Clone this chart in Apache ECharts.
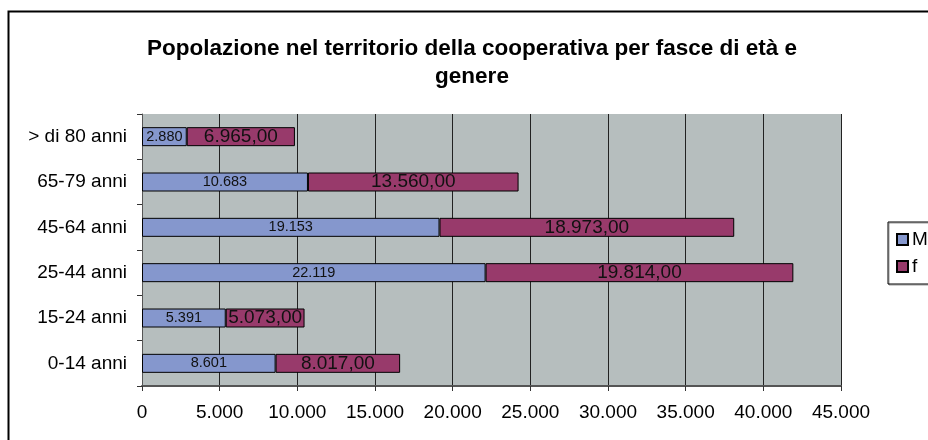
<!DOCTYPE html>
<html>
<head>
<meta charset="utf-8">
<script src="https://cdn.jsdelivr.net/npm/echarts@6/dist/echarts.min.js"></script>
<style>
  html, body { margin: 0; padding: 0; background: #fff; }
  #chart { width: 928px; height: 440px; }
</style>
</head>
<body>
<div id="chart"></div>
<script>
// categorie dal basso verso l'alto
var categories = ["0-14 anni", "15-24 anni", "25-44 anni", "45-64 anni", "65-79 anni", "> di 80 anni"];
var maschi = [8601, 5391, 22119, 19153, 10683, 2880];   // M
var femmine = [8017, 5073, 19814, 18973, 13560, 6965];  // f
var xTicks = [0, 5000, 10000, 15000, 20000, 25000, 30000, 35000, 40000, 45000];

function migliaia(v) {
  return String(v).replace(/\B(?=(\d{3})+(?!\d))/g, ".");
}

var chart = echarts.init(document.getElementById("chart"));

var options = {
  animation: false,
  textStyle: { fontFamily: "Liberation Sans, Arial, sans-serif" },
  title: {
    text: "Popolazione nel territorio della cooperativa per fasce di età e\ngenere",
    left: 467,
    top: 30,
    textAlign: "center",
    textStyle: {
      fontSize: 22.5,
      fontWeight: "bold",
      color: "#000",
      lineHeight: 28,
      fontFamily: "Liberation Sans, Arial, sans-serif"
    }
  },
  legend: {
    orient: "vertical",
    left: 888,
    top: 222,
    padding: [8, 40, 8, 8],
    itemGap: 8,
    itemWidth: 11,
    itemHeight: 11,
    icon: "rect",
    borderColor: "#000",
    borderWidth: 1,
    shadowColor: "rgba(0,0,0,0.4)",
    shadowOffsetX: 1,
    shadowOffsetY: 1,
    textStyle: { fontSize: 19, color: "#000", padding: [0, 0, 0, -1] },
    data: ["M", "f"]
  },
  graphic: [
    {
      type: "rect",
      shape: { x: 8.5, y: 11.5, width: 1000, height: 500 },
      style: { fill: "none", stroke: "#000", lineWidth: 2 },
      silent: true,
      z: -1
    }
  ],
  grid: {
    left: 142,
    right: 87,
    top: 114,
    bottom: 54,
    show: true,
    backgroundColor: "#b6bebe",
    borderWidth: 0,
    containLabel: false,
    outerBoundsMode: "none"
  },
  xAxis: {
    type: "value",
    min: 0,
    max: 45000,
    interval: 5000,
    axisLine: { show: true, lineStyle: { color: "#555", width: 2 } },
    axisTick: { show: true, length: 5, lineStyle: { color: "#333" } },
    axisLabel: {
      margin: 17,
      fontSize: 19,
      color: "#000",
      formatter: function (v) { return xTicks.indexOf(v) >= 0 ? migliaia(v) : ""; }
    },
    splitLine: { show: true, lineStyle: { color: "#222", width: 1 } }
  },
  yAxis: {
    type: "category",
    data: categories,
    axisLine: { show: true, lineStyle: { color: "#555", width: 1 } },
    axisTick: { show: true, length: 5, lineStyle: { color: "#333" } },
    axisLabel: { margin: 15, fontSize: 19, color: "#000" }
  },
  series: [
    {
      name: "M",
      type: "bar",
      stack: "total",
      barWidth: 19,
      data: maschi,
      itemStyle: { color: "#8597cd", borderColor: "#000", borderWidth: 1 },
      label: {
        show: true,
        position: "inside",
        fontSize: 14.5,
        color: "#111",
        formatter: function (p) { return migliaia(p.value); }
      }
    },
    {
      name: "f",
      type: "bar",
      stack: "total",
      barWidth: 19,
      data: femmine,
      itemStyle: { color: "#983a6b", borderColor: "#000", borderWidth: 1 },
      label: {
        show: true,
        position: "inside",
        fontSize: 19,
        color: "#111",
        formatter: function (p) { return migliaia(p.value) + ",00"; }
      }
    }
  ]
};

chart.setOption(options);
</script>
</body>
</html>
